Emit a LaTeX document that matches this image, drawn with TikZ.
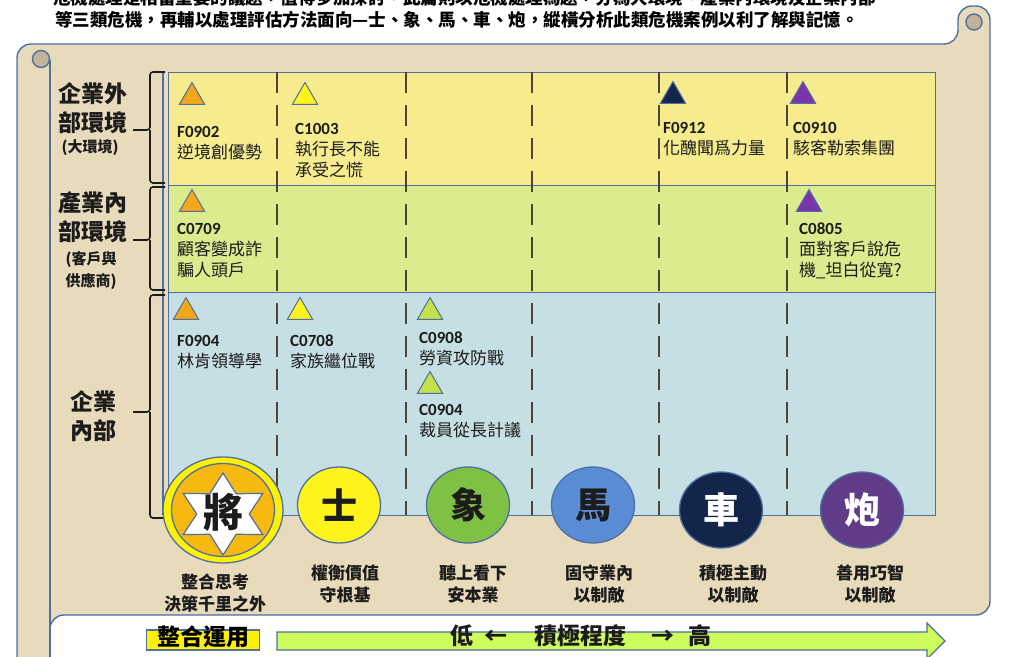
\documentclass[tikz,border=0pt]{standalone}
\usepackage{fontspec}
\setmainfont{Noto Sans CJK TC}
\newfontfamily\codefont{Carlito}
\usetikzlibrary{arrows.meta,positioning,calc,shapes.geometric}
\definecolor{cParch}{HTML}{E8DBBB}
\definecolor{cRoll}{HTML}{C2B49A}
\definecolor{cEdge}{HTML}{4E6F9F}
\definecolor{cDash}{HTML}{4C4533}
\definecolor{cInk}{HTML}{1C1C1C}
\definecolor{cRowA}{HTML}{F6EC8E}
\definecolor{cRowB}{HTML}{DCEB8E}
\definecolor{cRowC}{HTML}{C6DFE4}
\definecolor{cOrange}{HTML}{F2A71B}
\definecolor{cGold}{HTML}{F6B90F}
\definecolor{cYellow}{HTML}{FFF31C}
\definecolor{cLime}{HTML}{C3E14C}
\definecolor{cGreen}{HTML}{7FC143}
\definecolor{cBlue}{HTML}{5A8DD5}
\definecolor{cNavy}{HTML}{13254A}
\definecolor{cPlum}{HTML}{5F3B88}
\definecolor{cViolet}{HTML}{7A34AC}
\definecolor{cBar}{HTML}{CEFC5C}
\tikzset{
  scroll/.style={draw=cEdge,line width=1.4pt,fill=cParch},
  rowbox/.style={draw=cEdge,fill=#1,line width=1.4pt,anchor=north west,minimum width=767pt,inner sep=0pt},
  divider/.style={cDash,line width=2.4pt,dash pattern=on 21pt off 12pt},
  brk/.style={cInk,line width=1.6pt,rounded corners=3pt},
  intro/.style={font=\bfseries\fontsize{17.5}{20}\selectfont,anchor=west,inner sep=0pt,text=black},
  rowlab/.style={font=\bfseries\fontsize{23}{29}\selectfont,align=center,text=cInk,inner sep=0pt},
  sublab/.style={font=\bfseries\fontsize{15}{22}\selectfont,align=center,text=cInk,inner sep=0pt},
  tri/.style={regular polygon,regular polygon sides=3,draw=cEdge,fill=#1,line width=1pt,minimum size=29pt,inner sep=0pt},
  case/.style={font=\fontsize{17}{21}\selectfont,text=cInk,anchor=north west,align=left,inner sep=0pt},
  piece/.style={ellipse,draw=cEdge,fill=#1,line width=1.3pt,minimum width=83pt,minimum height=76pt,inner sep=0pt,font=\bfseries\fontsize{36}{36}\selectfont},
  motto/.style={font=\bfseries\fontsize{17}{22}\selectfont,align=center,text=cInk,inner sep=0pt},
  tag/.style={draw=cEdge,fill=yellow,line width=1.2pt,minimum width=113pt,minimum height=20pt,inner sep=0pt,text height=12pt,text depth=1pt,font=\bfseries\fontsize{23}{23}\selectfont},
}
\begin{document}
\begin{tikzpicture}[x=1pt,y=-1pt]
  \useasboundingbox[fill=white] (0,0) rectangle (1009,656);
  % parchment scroll
  \draw[scroll,rounded corners=14pt] (17,690) -- (17,44) -- (958,44) -- (958,6) -- (990,6) -- (990,615) -- (50,615) -- (50,690) -- cycle;
  \draw[cEdge,line width=1.4pt] (50,690) -- (50,60);
  \draw[cEdge,line width=1.4pt,fill=cRoll] (41,59) circle[radius=8.5];
  \draw[cEdge,line width=1.4pt,fill=cRoll] (974,22) circle[radius=8];

  \node[intro] (intro1) at (53,-2) {危機處理是相當重要的議題，值得多加探討。此篇則以危機處理為題，分為大環境、產業內環境及企業內部};
  \node[intro] (intro2) at (55,20) {等三類危機，再輔以處理評估方法面向—士、象、馬、車、炮，縱橫分析此類危機案例以利了解與記憶。};

  % rows
  \node[rowbox=cRowA,minimum height=113pt] (rowExt) at (168,72) {};
  \node[rowbox=cRowB,minimum height=107pt] (rowInd) at (168,185) {};
  \node[rowbox=cRowC,minimum height=223pt] (rowInn) at (168,292) {};
  \draw[cEdge,line width=1.2pt] (163,72) -- (163,515);
  \foreach \x in {277,406,532,659,787}
    \draw[divider] (\x,72) -- (\x,515);

  \node[rowlab] (labExt) at (93,108) {企業外\\部環境};
  \node[sublab] (subExt) at (90,148) {(大環境)};
  \node[rowlab] (labInd) at (93,217.5) {產業內\\部環境};
  \node[sublab] (subInd) at (91,271) {(客戶與\\供應商)};
  \node[rowlab] (labInn) at (93,416) {企業\\內部};
  \foreach \a/\m/\b in {72/130/183,187/240/290,295/412/518}
    \draw[brk] (165,\a) -| (150,\m) -- (133,\m) (150,\m) |- (165,\b);

  % crisis cases
  \foreach \tx/\ty/\c/\kx/\ky/\k/\t in {192/97/cOrange/177/126/F0902/{逆境創優勢},
      305/97/cYellow/295/123/C1003/{執行長不能\\承受之慌},
      673/96/cNavy/663/122/F0912/{化醜聞爲力量},
      803/96/cViolet/793/122/C0910/{駭客勒索集團},
      192/204/cOrange/177/223/C0709/{顧客變成詐\\騙人頭戶},
      809/204/cViolet/799/223/C0805/{面對客戶說危\\機\_坦白從寬?},
      186/312/cOrange/177/335/F0904/{林肯領導學},
      300/312/cYellow/290/335/C0708/{家族繼位戰},
      430/312/cLime/419/332/C0908/{勞資攻防戰},
      430/386/cLime/419/404/C0904/{裁員從長計議}}
    {\node[tri=\c] (t\k) at (\tx,\ty) {};
     \node[case] (\k) at (\kx,\ky) {{\codefont\bfseries\k}\\\t};}

  % pieces
  \node[piece=yellow,minimum width=120pt,minimum height=106pt] (jiangRing) at (223,510) {};
  \node[piece=cGold,minimum width=103pt,minimum height=93pt] (jiangCore) at (jiangRing) {};
  \node[star,star points=6,star point ratio=1.75,minimum size=82pt,draw=cEdge,fill=white,line width=1.2pt,inner sep=0pt,xscale=1.12,transform shape] (jiangStar) at (223,514) {};
  \node[font=\bfseries\fontsize{40}{40}\selectfont,text=cInk,inner sep=0pt] (jiang) at (223,512) {將};
  \foreach \x/\y/\c/\f/\g/\n in {339/505/cYellow/cInk/士/shi,468/505/cGreen/cInk/象/xiang,593/505/cBlue/cInk/馬/ma,721/510/cNavy/white/車/ju,862/510/cPlum/white/炮/pao}
    \node[piece=\c,text=\f] (\n) at (\x,\y) {\g};

  \node[motto] (mJiang) at (215,593) {整合思考\\決策千里之外};
  \foreach \x/\t/\n in {345/{權衡價值\\守根基}/shi,473/{聽上看下\\安本業}/xiang,599/{固守業內\\以制敵}/ma,733/{積極主動\\以制敵}/ju,870/{善用巧智\\以制敵}/pao}
    \node[motto] (m\n) at (\x,584) {\t};

  % bottom scale
  \node[tag] (combo) at (203,640) {整合運用};
  \draw[cEdge,line width=1.2pt,fill=cBar] (277,632) -- (927,632) -- (927,623) -- (945,641) -- (927,659) -- (927,650) -- (277,650) -- cycle;
  \node[font=\bfseries\fontsize{23}{23}\selectfont,text=cInk,inner sep=0pt] (scale) at (581,636) {低\hspace{12pt}←\hspace{26pt}積極程度\hspace{26pt}→\hspace{14pt}高};
\end{tikzpicture}
\end{document}
